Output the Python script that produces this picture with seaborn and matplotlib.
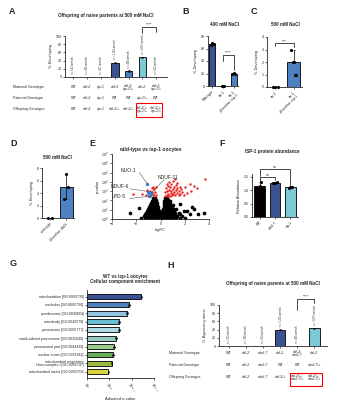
import numpy as np
import pandas as pd
import matplotlib
matplotlib.use("Agg")
import matplotlib.pyplot as plt
import matplotlib.transforms as mtransforms
from matplotlib.patches import Rectangle
import seaborn as sns

sns.set_theme(style="ticks")
plt.rcParams['font.family'] = ['Liberation Sans', 'DejaVu Sans']
plt.rcParams['axes.linewidth'] = 0.6
plt.rcParams['xtick.major.width'] = 0.5
plt.rcParams['ytick.major.width'] = 0.5
plt.rcParams['xtick.major.size'] = 1.5
plt.rcParams['ytick.major.size'] = 1.5
plt.rcParams['xtick.major.pad'] = 1
plt.rcParams['ytick.major.pad'] = 1

DARK = "#2B4BA0"
MID = "#3A7FD5"
CYAN = "#6ED2E6"

# ---------------- DATA ----------------
A_cats = ["c1", "c2", "c3", "c4", "c5", "c6", "c7"]
A_values = [0, 0, 0, 35, 15, 48, 0]
A_err = [0, 0, 0, 2, 2, 2, 0]
A_n = ["n = 522 animals", "n = 436 animals", "n = 467 animals", "n = 1,128 animals",
       "n = 448 animals", "n = 1,097 animals", "n = 613 animals"]
A_maternal = ["WT", "daf-2", "isp-1", "daf-2", "daf-2;\nisp-1/+", "daf-2", "daf-2;\nisp-1/+"]
A_paternal = ["WT", "daf-2", "isp-1", "WT", "WT", "isp-1/+", "WT"]
A_offspring = ["WT", "daf-2", "isp-1", "daf-2/+", "daf-2/+", "daf-2/+;\nisp-1/+", "daf-2/+;\nisp-1/+"]

B_cats = ["Wild-type", "isp-1", "isp-1;\npGermline::isp-1"]
B_values = [67, 0, 20]
B_err = [2, 0, 1]
B_points = [[66, 69, 68], [0, 0, 0], [20, 21, 20]]

C_cats = ["isp-1", "isp-1;\npGermline::isp-1"]
C_values = [0, 2]
C_err = [0, 1]
C_points = [[0, 0, 0], [3, 2, 2, 1, 1]]

D_cats = ["wild-type", "pGermline::AUX"]
D_values = [0, 5]
D_err = [0, 2]
D_points = [[0, 0], [3, 7, 5]]

E_black_x = [-1.6, -1.3, -1.0, -0.8, -0.6, -0.4, -0.2, 0.0, 0.2, 0.4, 0.6, 0.8, 1.0, 1.3, 1.6, 2.0,
             -1.4, -1.1, -0.9, -0.7, -0.5, -0.3, -0.1, 0.1, 0.3, 0.5, 0.7, 0.9, 1.1, 1.4, 1.8,
             -1.3, -1.0, -0.8, -0.6, -0.4, -0.2, 0.0, 0.2, 0.4, 0.6, 0.8, 1.0, 1.2, 1.6, 2.4,
             -1.2, -0.95, -0.75, -0.55, -0.35, -0.15, 0.15, 0.35, 0.55, 0.75, 0.95, 1.2, 1.5,
             -1.1, -0.9, -0.7, -0.5, -0.3, -0.1, 0.1, 0.3, 0.5, 0.7, 0.9, 1.1, 1.9,
             -1.0, -0.8, -0.6, -0.4, -0.2, 0.2, 0.4, 0.6, 0.8, 1.0, 1.3,
             -0.95, -0.75, -0.55, -0.35, -0.2, 0.25, 0.4, 0.55, 0.75, 0.95, 2.6,
             -0.9, -0.7, -0.5, -0.3, 0.3, 0.45, 0.6, 0.8, 1.0,
             -0.8, -0.6, -0.45, -0.3, 0.3, 0.45, 0.6, 0.8,
             -0.7, -0.55, -0.4, 0.3, 0.45, 0.6, 0.75,
             -0.65, -0.5, -0.35, 0.35, 0.5, 0.65,
             -0.6, -0.45, 0.4, 0.55,
             -2.5, -1.8, 1.6, 2.2, 2.8, 3.1, 3.6]
E_black_v = [0.1] * 16 + [0.3] * 15 + [0.5] * 15 + [0.7] * 13 + [0.9] * 13 + [1.1] * 11 + \
            [1.3] * 11 + [1.5] * 9 + [1.7] * 8 + [1.9] * 7 + [2.1] * 6 + [2.3] * 4 + \
            [0.6, 1.2, 1.6, 0.9, 1.1, 0.5, 0.6]
E_red_x = [-1.2, -1.0, -0.9, -0.8, -0.7, -0.6, -0.55, -0.5, -0.45, -0.4, -0.35, -0.7, -1.1, -0.85,
           -0.6, -1.5, -2.3,
           0.35, 0.4, 0.45, 0.5, 0.55, 0.6, 0.65, 0.7, 0.75, 0.8, 0.85, 0.9, 0.95, 1.0, 1.05, 1.1,
           1.15, 1.2, 1.3, 1.35, 1.4, 1.5, 1.55, 1.6, 1.7, 1.8, 1.0, 1.2, 0.9, 1.4, 0.7, 1.9, 2.0,
           2.2, 2.5, 2.8, 3.0, 3.7, 2.4, 0.5, 0.6, 1.25, 1.6]
E_red_v = [2.6, 2.8, 3.0, 2.6, 2.9, 2.7, 3.2, 2.5, 2.9, 3.4, 2.6, 3.3, 3.1, 2.5, 3.5, 2.7, 2.7,
           2.5, 2.9, 3.3, 2.6, 3.0, 3.6, 2.7, 3.1, 2.5, 3.4, 2.8, 3.0, 2.6, 3.2, 2.7, 3.5,
           2.9, 2.6, 3.1, 2.8, 3.3, 2.6, 3.0, 2.7, 3.2, 2.9, 4.1, 4.3, 3.8, 3.9, 4.0, 2.6, 3.4,
           2.8, 3.0, 3.6, 3.3, 4.3, 3.8, 3.8, 2.5, 3.7, 3.5]
E_blue_x = [-1.1, -0.75, -1.0, -0.95, -0.85]
E_blue_v = [3.8, 2.8, 2.95, 2.45, 2.6]
E_labels = ["NUO-1", "NDUF-11", "NDUF-6", "LPD-5"]

F_cats = ["WT", "nduf-7", "isp-1"]
F_values = [1.17, 1.28, 1.10]
F_err = [0.12, 0.04, 0.03]
F_points = [[1.05, 1.17, 1.29], [1.25, 1.28, 1.31], [1.08, 1.10, 1.12]]

G_terms = ["mitochondrion [GO:0005739]", "nucleolus [GO:0005730]", "preribosome [GO:0030684]",
           "microbody [GO:0042579]", "peroxisome [GO:0005777]",
           "small-subunit processome [GO:0032040]", "peroxisomal part [GO:0044439]",
           "nuclear lumen [GO:0031981]", "mitochondrial respiratory\nchain complex I [GO:0005747]",
           "mitochondrial matrix [GO:0005759]"]
G_neglog10 = [12.2, 9.4, 9.0, 7.1, 7.1, 6.5, 6.1, 5.9, 5.5, 4.8]
G_colors = ["#2B4BA0", "#3A7FD5", "#86C8F0", "#5AC9E6", "#A7E3F2", "#8CD3C8",
            "#98D480", "#5DBB4C", "#A4CC2E", "#F2EA2A"]

H_cats = ["h1", "h2", "h3", "h4", "h5", "h6"]
H_values = [0, 0, 0, 40, 0, 43]
H_err = [0, 0, 0, 2, 0, 2]
H_n = ["n = 293 animals", "n = 280 animals", "n = 224 animals", "n = 1,293 animals",
       "n = 465 animals", "n = 1,075 animals"]
H_maternal = ["WT", "daf-2", "nduf-7", "daf-2", "daf-2;\nnduf-7", "daf-2"]
H_paternal = ["WT", "daf-2", "nduf-7", "WT", "WT", "nduf-7/+"]
H_offspring = ["WT", "daf-2", "nduf-7", "daf-2/+", "daf-2/+;\nnduf-7/+", "daf-2/+;\nnduf-7/+"]

# ---------------- FIGURE ----------------
W, H = 357, 400
fig = plt.figure(figsize=(W / 100, H / 100), dpi=100)
fig.patch.set_facecolor("white")


def ax_px(l, t, r, b):
    return fig.add_axes([l / W, 1 - b / H, (r - l) / W, (b - t) / H])


def fy(y):
    return 1 - y / H


def letter(x, y, s):
    fig.text(x / W, fy(y), s, fontsize=6.5, fontweight="bold", va="center", ha="left")


def style(ax, fs=2.6):
    sns.despine(ax=ax)
    ax.tick_params(labelsize=fs)
    ax.set_facecolor("white")


def bracket(ax, x1, x2, ytop, yl, yr, text, fs=3):
    ax.plot([x1, x1, x2, x2], [yl, ytop, ytop, yr], color="black", lw=0.5, clip_on=False)
    ax.text((x1 + x2) / 2, ytop, text, ha="center", va="bottom", fontsize=fs, clip_on=False)


def bars(ax, cats, vals, colors, width=0.6):
    df = pd.DataFrame({"cat": cats, "val": vals})
    sns.barplot(data=df, x="cat", y="val", hue="cat", palette=colors, legend=False, ax=ax,
                edgecolor="black", linewidth=0.6, width=width, errorbar=None)


def errs(ax, vals, err, lw=0.5):
    xs = [i for i, e in enumerate(err) if e > 0]
    ax.errorbar(xs, [vals[i] for i in xs], yerr=[err[i] for i in xs], fmt="none",
                ecolor="black", elinewidth=lw, capsize=1, capthick=lw)


def points(ax, pts):
    for i, p in enumerate(pts):
        offs = np.linspace(-0.12, 0.12, len(p)) if len(p) > 1 else [0]
        ax.scatter(np.array(offs) + i, p, s=1.5, color="black", zorder=5, clip_on=False)


def geno_table(ax, rows, ys, labels, fs=2.6):
    tr = mtransforms.blended_transform_factory(ax.transData, fig.transFigure)
    for row, y, lab in zip(rows, ys, labels):
        fig.text(lab[1] / W, fy(y), lab[0], fontsize=fs, va="center", ha="left")
        for i, s in enumerate(row):
            ax.text(i, fy(y), s, transform=tr, fontsize=fs, va="center", ha="center",
                    style="italic" if s != "WT" else "normal", linespacing=0.9, clip_on=False)


# ---------- Panel A ----------
letter(9, 12, "A")
fig.text(106 / W, fy(15), "Offspring of naive partents at 500 mM NaCl", fontsize=3.3,
         fontweight="bold", ha="center", va="center")
axA = ax_px(65, 36, 167, 77)
colA = ["white", "white", "white", DARK, MID, CYAN, "white"]
bars(axA, A_cats, A_values, colA, width=0.55)
errs(axA, A_values, A_err)
axA.set_ylim(0, 100)
axA.set_yticks([0, 20, 40, 60, 80, 100])
axA.set_xticks(range(7))
axA.set_xticklabels([])
axA.set_xlabel("")
axA.set_ylabel("% Developing", fontsize=2.8, labelpad=2)
style(axA)
for i, (v, n) in enumerate(zip(A_values, A_n)):
    axA.text(i, v + 8, n, rotation=90, fontsize=1.8, ha="center", va="bottom", color="#333333")
bracket(axA, 5, 6, 122, 107, 110, "****")
geno_table(axA, [A_maternal, A_paternal, A_offspring], [87, 98, 109],
           [("Maternal Genotype", 13), ("Paternal Genotype", 13), ("Offspring Genotype", 13)])
trA = mtransforms.blended_transform_factory(axA.transData, fig.transFigure)
axA.add_patch(Rectangle((4.55, fy(117)), 1.9, 14 / H, transform=trA, fill=False,
                        edgecolor="red", lw=0.8, clip_on=False))

# ---------- Panel B ----------
letter(182, 12, "B")
fig.text(225 / W, fy(25), "400 mM NaCl", fontsize=3.3, fontweight="bold", ha="center", va="center")
axB = ax_px(208, 36, 238, 86)
bars(axB, B_cats, B_values, [DARK, MID, MID], width=0.55)
errs(axB, B_values, B_err)
points(axB, B_points)
axB.set_ylim(0, 80)
axB.set_yticks([0, 20, 40, 60, 80])
axB.set_xlabel("")
axB.set_ylabel("% Developing", fontsize=2.8, labelpad=2)
style(axB)
axB.set_xticks(range(3))
axB.set_xticklabels(B_cats, rotation=45, ha="right", rotation_mode="anchor", fontsize=2.4,
                    linespacing=0.9)
bracket(axB, 1, 2, 50, 40, 26, "****")

# ---------- Panel C ----------
letter(251, 12, "C")
fig.text(285 / W, fy(25), "500 mM NaCl", fontsize=3.3, fontweight="bold", ha="center", va="center")
axC = ax_px(267, 37, 302, 87)
bars(axC, C_cats, C_values, [MID, MID], width=0.75)
axC.errorbar([1], [C_values[1]], yerr=[[0], [C_err[1]]], fmt="none", ecolor="black",
             elinewidth=0.5, capsize=1, capthick=0.5)
points(axC, C_points)
axC.set_ylim(0, 4)
axC.set_yticks([0, 1, 2, 3, 4])
axC.set_xlabel("")
axC.set_ylabel("% Developing", fontsize=2.8, labelpad=2)
style(axC)
axC.set_xticks(range(2))
axC.set_xticklabels(C_cats, rotation=45, ha="right", rotation_mode="anchor", fontsize=2.4,
                    linespacing=0.9)
bracket(axC, 0, 1, 3.5, 3.3, 3.2, "***")

# ---------- Panel D ----------
letter(10, 144, "D")
fig.text(57 / W, fy(157), "500 mM NaCl", fontsize=3.3, fontweight="bold", ha="center", va="center")
axD = ax_px(42, 168, 74, 218)
bars(axD, D_cats, D_values, [MID, MID], width=0.75)
errs(axD, D_values, D_err)
points(axD, D_points)
axD.set_ylim(0, 8)
axD.set_yticks([0, 2, 4, 6, 8])
axD.set_xlabel("")
axD.set_ylabel("% Developing", fontsize=2.8, labelpad=2)
style(axD)
axD.set_xticks(range(2))
axD.set_xticklabels(D_cats, rotation=45, ha="right", rotation_mode="anchor", fontsize=2.4)

# ---------- Panel E ----------
letter(89, 144, "E")
fig.text(150 / W, fy(150), "wild-type vs isp-1 oocytes", fontsize=3.6, fontweight="bold",
         ha="center", va="center")
axE = ax_px(112, 154, 209, 219)
sns.scatterplot(x=E_black_x, y=E_black_v, color="black", s=7, linewidth=0, ax=axE)
sns.scatterplot(x=E_red_x, y=E_red_v, color="#E8231E", s=3, linewidth=0, ax=axE)
sns.scatterplot(x=E_blue_x, y=E_blue_v, color="#2F7FD8", s=6, linewidth=0, ax=axE)
axE.set_xlim(-4, 4)
axE.set_ylim(0, 7)
axE.set_xticks([-4, -2, 0, 2, 4])
axE.set_yticks(range(8))
axE.set_yticklabels([f"10$^{{{k}}}$" for k in range(8)])
axE.set_xlabel("logFC", fontsize=3, labelpad=1)
axE.set_ylabel("p-value", fontsize=3, labelpad=1)
style(axE, fs=2.6)
lab_pos = [(-2.65, 5.2), (0.6, 4.45), (-3.4, 3.45), (-3.45, 2.4)]
for (tx, ty), lab, px, py in zip(lab_pos, E_labels, E_blue_x[:4], E_blue_v[:4]):
    axE.text(tx, ty, lab, fontsize=3.6, ha="center", va="center")
    axE.plot([tx + (0.9 if tx < -1 else -0.3), px], [ty - 0.2, py], color="#444444", lw=0.35)

# ---------- Panel F ----------
letter(219, 144, "F")
fig.text(272 / W, fy(152), "ISP-1 protein abundance", fontsize=3.3, fontweight="bold",
         ha="center", va="center")
axF = ax_px(252, 174, 298, 217)
bars(axF, F_cats, F_values, ["black", DARK, CYAN], width=0.7)
errs(axF, F_values, F_err)
points(axF, F_points)
axF.set_ylim(0, 1.6)
axF.set_yticks([0.0, 0.5, 1.0, 1.5])
axF.set_xlabel("")
axF.set_ylabel("Relative Abundance", fontsize=2.8, labelpad=2)
style(axF)
axF.set_xticks(range(3))
axF.set_xticklabels(F_cats, rotation=45, ha="right", rotation_mode="anchor", fontsize=2.6)
bracket(axF, 0, 1, 1.47, 1.33, 1.38, "ns", fs=2.6)
bracket(axF, 0, 2, 1.78, 1.52, 1.2, "ns", fs=2.6)

# ---------- Panel G ----------
letter(10, 264, "G")
fig.text(125 / W, fy(279), "WT vs isp-1 oocytes\nCellular component enrichment", fontsize=3.3,
         fontweight="bold", ha="center", va="center", linespacing=1.0)
axG = ax_px(87, 290, 154, 378)
dfG = pd.DataFrame({"term": G_terms, "val": G_neglog10})
sns.barplot(data=dfG, y="term", x="val", hue="term", palette=G_colors, legend=False, ax=axG,
            edgecolor="black", linewidth=0.6, width=0.6, errorbar=None, orient="h")
axG.errorbar(G_neglog10, range(len(G_terms)), xerr=[0.2] * len(G_terms), fmt="none",
             ecolor="black", elinewidth=0.5, capsize=0.8, capthick=0.5)
axG.set_xlim(0, 15)
axG.set_xticks([0, 5, 10, 15])
axG.set_xticklabels(["10$^{0}$", "10$^{-5}$", "10$^{-10}$", "10$^{-15}$"], rotation=-60,
                    ha="left", rotation_mode="anchor")
axG.set_ylabel("")
axG.set_xlabel("Adjusted p-value", fontsize=3, labelpad=2)
style(axG, fs=2.5)
for t in axG.get_yticklabels():
    t.set_linespacing(0.9)

# ---------- Panel H ----------
letter(167, 265, "H")
fig.text(273 / W, fy(284), "Offspring of naive parents at 500 mM NaCl", fontsize=3.3,
         fontweight="bold", ha="center", va="center")
axH = ax_px(219, 305, 327, 346)
colH = ["white", "white", "white", DARK, "white", CYAN]
bars(axH, H_cats, H_values, colH, width=0.6)
errs(axH, H_values, H_err)
axH.set_ylim(0, 100)
axH.set_yticks([0, 20, 40, 60, 80, 100])
axH.set_xticks(range(6))
axH.set_xticklabels([])
axH.set_xlabel("")
axH.set_ylabel("% Bypassing arrest", fontsize=2.8, labelpad=2)
style(axH)
for i, (v, n) in enumerate(zip(H_values, H_n)):
    axH.text(i, v + 8, n, rotation=90, fontsize=1.8, ha="center", va="bottom", color="#333333")
bracket(axH, 4, 5, 115, 88, 104, "****")
geno_table(axH, [H_maternal, H_paternal, H_offspring], [353, 365, 377],
           [("Maternal Genotype", 169), ("Paternal Genotype", 169), ("Offspring Genotype", 169)])
trH = mtransforms.blended_transform_factory(axH.transData, fig.transFigure)
axH.add_patch(Rectangle((3.55, fy(386)), 1.9, 13 / H, transform=trH, fill=False,
                        edgecolor="red", lw=0.8, clip_on=False))

fig.savefig("out.png", dpi=100, facecolor="white")
